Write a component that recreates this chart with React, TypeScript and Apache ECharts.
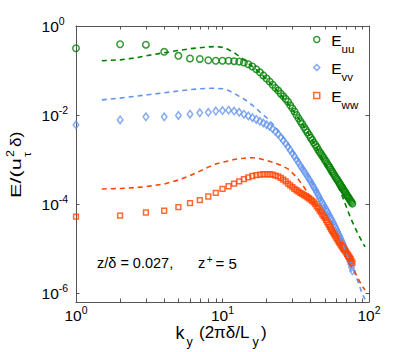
import React, { useEffect, useRef } from "react";
import * as echarts from "echarts";

// ---- data (energy spectra, exponents of E/(u_tau^2 delta), log10) ----
const kMarkers = [
  1, 2, 3, 4, 5, 6, 7, 8, 9, 10,
  11, 12, 13, 14, 15, 16, 17, 18, 19, 20,
  21, 22, 23, 24, 25, 26, 27, 28, 29, 30,
  31, 32, 33, 34, 35, 36, 37, 38, 39, 40,
  41, 42, 43, 44, 45, 46, 47, 48, 49, 50,
  51, 52, 53, 54, 55, 56, 57, 58, 59, 60,
  61, 62, 63, 64, 65, 66, 67, 68, 69, 70,
  71, 72, 73, 74, 75, 76, 77,
];
const euuMarkersLog = [
  -0.50, -0.41, -0.42, -0.58, -0.67, -0.73, -0.74, -0.77, -0.78, -0.78,
  -0.78, -0.79, -0.80, -0.82, -0.86, -0.91, -0.97, -1.04, -1.11, -1.18,
  -1.25, -1.32, -1.39, -1.45, -1.52, -1.58, -1.64, -1.70, -1.78, -1.85,
  -1.92, -2.00, -2.07, -2.14, -2.20, -2.27, -2.33, -2.39, -2.45, -2.51,
  -2.56, -2.62, -2.67, -2.72, -2.78, -2.83, -2.87, -2.92, -2.96, -3.01,
  -3.05, -3.10, -3.14, -3.18, -3.23, -3.27, -3.31, -3.35, -3.39, -3.43,
  -3.46, -3.50, -3.54, -3.57, -3.61, -3.64, -3.68, -3.71, -3.74, -3.78,
  -3.81, -3.84, -3.87, -3.90, -3.93, -3.96, -3.99,
];
const evvMarkersLog = [
  -2.22, -2.11, -2.04, -2.04, -2.01, -1.98, -1.95, -1.94, -1.91, -1.90,
  -1.89, -1.91, -1.94, -1.98, -2.02, -2.06, -2.10, -2.14, -2.18, -2.22,
  -2.26, -2.31, -2.37, -2.43, -2.50, -2.57, -2.64, -2.71, -2.79, -2.86,
  -2.93, -3.00, -3.07, -3.14, -3.20, -3.26, -3.32, -3.38, -3.44, -3.50,
  -3.56, -3.62, -3.68, -3.74, -3.80, -3.86, -3.92, -3.97, -4.02, -4.07,
  -4.12, -4.17, -4.22, -4.27, -4.32, -4.37, -4.42, -4.47, -4.52, -4.57,
  -4.62, -4.67, -4.72, -4.77, -4.82, -4.87, -4.92, -4.97, -5.02, -5.07,
  -5.12, -5.17, -5.23, -5.29, -5.35, -5.42, -5.50,
];
const ewwMarkersLog = [
  -4.28, -4.26, -4.19, -4.15, -4.07, -3.98, -3.91, -3.83, -3.75, -3.66,
  -3.60, -3.54, -3.49, -3.44, -3.40, -3.37, -3.35, -3.34, -3.33, -3.33,
  -3.33, -3.34, -3.36, -3.38, -3.41, -3.45, -3.49, -3.54, -3.58, -3.62,
  -3.66, -3.69, -3.72, -3.75, -3.77, -3.80, -3.82, -3.85, -3.87, -3.90,
  -3.93, -3.96, -4.00, -4.05, -4.09, -4.14, -4.18, -4.23, -4.27, -4.31,
  -4.36, -4.41, -4.46, -4.51, -4.56, -4.60, -4.64, -4.68, -4.72, -4.76,
  -4.80, -4.84, -4.87, -4.91, -4.94, -4.97, -5.00, -5.03, -5.06, -5.09,
  -5.12, -5.15, -5.18, -5.21, -5.24, -5.28, -5.32,
];

const kLines = [
  1.5, 2, 2.5, 3, 4, 5, 6, 7, 8, 9, 10, 11, 12, 13, 14, 15, 16, 18, 20, 22,
  25, 28, 32, 36, 40, 45, 50, 55, 60, 65, 70, 75, 80, 85, 90, 94,
];
const euuLineLog = [
  -0.78, -0.76, -0.72, -0.67, -0.60, -0.55, -0.51, -0.49, -0.47, -0.46, -0.48, -0.53,
  -0.60, -0.68, -0.76, -0.84, -0.91, -1.05, -1.20, -1.34, -1.54, -1.74, -2.00, -2.26,
  -2.50, -2.80, -3.08, -3.32, -3.53, -3.78, -4.06, -4.32, -4.52, -4.70, -4.85, -4.96,
];
const evvLineLog = [
  -1.66, -1.62, -1.58, -1.55, -1.50, -1.46, -1.43, -1.41, -1.40, -1.40, -1.41, -1.45,
  -1.51, -1.58, -1.64, -1.71, -1.78, -1.93, -2.06, -2.20, -2.42, -2.64, -2.94, -3.22,
  -3.47, -3.78, -4.06, -4.33, -4.58, -4.84, -5.10, -5.33, -5.55, -5.78, -6.02, -6.14,
];
const ewwLineLog = [
  -3.66, -3.65, -3.63, -3.61, -3.55, -3.46, -3.36, -3.26, -3.17, -3.10, -3.06, -3.03,
  -3.00, -2.98, -2.97, -2.96, -2.96, -2.98, -3.02, -3.06, -3.13, -3.21, -3.39, -3.62,
  -3.85, -4.12, -4.38, -4.62, -4.85, -5.05, -5.22, -5.38, -5.52, -5.70, -5.85, -5.93,
];

const seriesNames = ["Euu", "Evv", "Eww"];
const xLabelExponents = [0, 1, 2];
const xTickKs = [1, 2, 3, 4, 5, 6, 7, 8, 9, 10, 20, 30, 40, 50, 60, 70, 80, 90, 100];
const yLabelExponents = [0, -2, -4, -6];

const GREEN = "#008000";
const BLUE = "#6495ED";
const ORANGE = "#FF4500";
const AXIS = "#555555";
const FONT = '"Liberation Sans", Arial, Helvetica, sans-serif';

const pairs = (ks: number[], vals: number[]) => ks.map((k, i) => [Math.log10(k), vals[i]]);

const tickRich = {
  b: { fontSize: 15.5, fontFamily: FONT, color: "#000", lineHeight: 16, verticalAlign: "bottom" },
  s: { fontSize: 10.5, fontFamily: FONT, color: "#000", lineHeight: 11, verticalAlign: "bottom", padding: [0, 0, 8, 0] },
};

function txt(text: string, x: number, y: number, size: number, extra: any = {}) {
  return {
    type: "text",
    x,
    y,
    silent: true,
    ...extra,
    style: {
      text,
      font: `${size}px ${FONT}`,
      fill: "#000",
      align: "left",
      verticalAlign: "middle",
    },
  };
}

export default function App() {
  const ref = useRef<HTMLDivElement>(null);
  useEffect(() => {
    if (!ref.current) return;
    const chart = echarts.init(ref.current, undefined, { renderer: "svg" });
    const axisCommon = {
      type: "value",
      splitLine: { show: false },
      axisLine: { show: true, onZero: false, lineStyle: { color: AXIS, width: 1 } },
    };
    const xTicks = xTickKs.map((k) => Math.log10(k));
    const R = Math.PI / 2;
    chart.setOption({
      animation: false,
      backgroundColor: "#fff",
      grid: { left: 76, right: 38, top: 26, bottom: 50, containLabel: false },
      xAxis: [
        {
          ...axisCommon,
          min: 0,
          max: 2,
          position: "bottom",
          axisTick: { show: true, inside: true, length: 3.5, customValues: xTicks, lineStyle: { color: AXIS } },
          axisLabel: {
            customValues: xLabelExponents,
            showMinLabel: true,
            showMaxLabel: true,
            margin: 5,
            formatter: (v: number) => `{b|10}{s|${v}}`,
            rich: tickRich,
          },
        },
        {
          ...axisCommon,
          min: 0,
          max: 2,
          position: "top",
          axisTick: { show: true, inside: true, length: 3.5, customValues: xTicks, lineStyle: { color: AXIS } },
          axisLabel: { show: false },
        },
      ],
      yAxis: [
        {
          ...axisCommon,
          min: -6.2,
          max: 0,
          position: "left",
          axisTick: { show: true, inside: true, length: 3.5, customValues: yLabelExponents, lineStyle: { color: AXIS } },
          axisLabel: {
            customValues: yLabelExponents,
            showMinLabel: true,
            showMaxLabel: true,
            align: "left",
            margin: 34.4,
            formatter: (v: number) => `{b|10}{s|${v}}`,
            rich: tickRich,
          },
        },
        {
          ...axisCommon,
          min: -6.2,
          max: 0,
          position: "right",
          axisTick: { show: true, inside: true, length: 3.5, customValues: yLabelExponents, lineStyle: { color: AXIS } },
          axisLabel: { show: false },
        },
      ],
      legend: {
        data: seriesNames,
        orient: "vertical",
        left: 313,
        top: 32,
        itemWidth: 6,
        itemHeight: 6,
        itemGap: 1,
        padding: 0,
        selectedMode: false,
        itemStyle: { borderWidth: 1.5 },
        formatter: (n: string) => `{e|E}{s|${n.slice(1)}}`,
        textStyle: {
          rich: {
            e: { fontSize: 15.5, lineHeight: 15, fontFamily: FONT, color: "#000", verticalAlign: "top", padding: [0, 0, 0, 6.5] },
            s: { fontSize: 11.5, lineHeight: 11, fontFamily: FONT, color: "#000", verticalAlign: "top", padding: [11.4, 0, 3.6, 0] },
          },
        },
      },
      series: [
        {
          type: "scatter",
          name: "Euu",
          data: pairs(kMarkers, euuMarkersLog),
          symbol: "circle",
          symbolSize: 6.5,
          itemStyle: { color: "rgba(0,0,0,0)", borderColor: GREEN, borderWidth: 1.5 },
          silent: true,
        },
        {
          type: "scatter",
          name: "Evv",
          data: pairs(kMarkers, evvMarkersLog),
          symbol: "diamond",
          symbolSize: [5.5, 7.5],
          itemStyle: { color: "rgba(0,0,0,0)", borderColor: BLUE, borderWidth: 1.5 },
          silent: true,
        },
        {
          type: "scatter",
          name: "Eww",
          data: pairs(kMarkers, ewwMarkersLog),
          symbol: "rect",
          symbolSize: 4.8,
          itemStyle: { color: "rgba(0,0,0,0)", borderColor: ORANGE, borderWidth: 1.5 },
          silent: true,
        },
        {
          type: "line",
          name: "Euu model",
          data: pairs(kLines, euuLineLog),
          showSymbol: false,
          symbol: "none",
          lineStyle: { color: GREEN, width: 1.6, type: [5, 4] },
          silent: true,
        },
        {
          type: "line",
          name: "Evv model",
          data: pairs(kLines, evvLineLog),
          showSymbol: false,
          symbol: "none",
          lineStyle: { color: BLUE, width: 1.6, type: [5, 4] },
          silent: true,
        },
        {
          type: "line",
          name: "Eww model",
          data: pairs(kLines, ewwLineLog),
          showSymbol: false,
          symbol: "none",
          lineStyle: { color: ORANGE, width: 1.6, type: [5, 4] },
          silent: true,
        },
      ],
      graphic: [
        // y-axis title: E/(u^2_tau delta)
        txt("E/(u", 15.7, 198, 15, { rotation: R, scaleX: 1.45 }),
        txt("2", 10.2, 157, 10.5, { rotation: R, scaleX: 1.2 }),
        txt("τ", 27.3, 157, 10.5, { rotation: R, scaleX: 1.2 }),
        txt("δ)", 15.7, 147, 15, { rotation: R, scaleX: 1.15 }),
        // x-axis title: k_y (2 pi delta / L_y)
        txt("k", 175.6, 332.8, 18),
        txt("y", 186.5, 341.7, 12.5),
        txt("(2πδ/L", 199, 332, 17),
        txt("y", 252.5, 341.7, 12.5),
        txt(")", 261, 332, 17),
        // annotation
        txt("z/δ = 0.027,", 97, 263.1, 14.5),
        txt("z", 198, 263.1, 14.5),
        txt("+", 206.8, 259.5, 10),
        txt("= 5", 215.5, 263.1, 15),
      ],
    });
    return () => chart.dispose();
  }, []);
  return (
    <div
      ref={ref}
      style={{ position: "fixed", left: 0, top: 0, width: 407, height: 352, background: "#fff" }}
    />
  );
}
